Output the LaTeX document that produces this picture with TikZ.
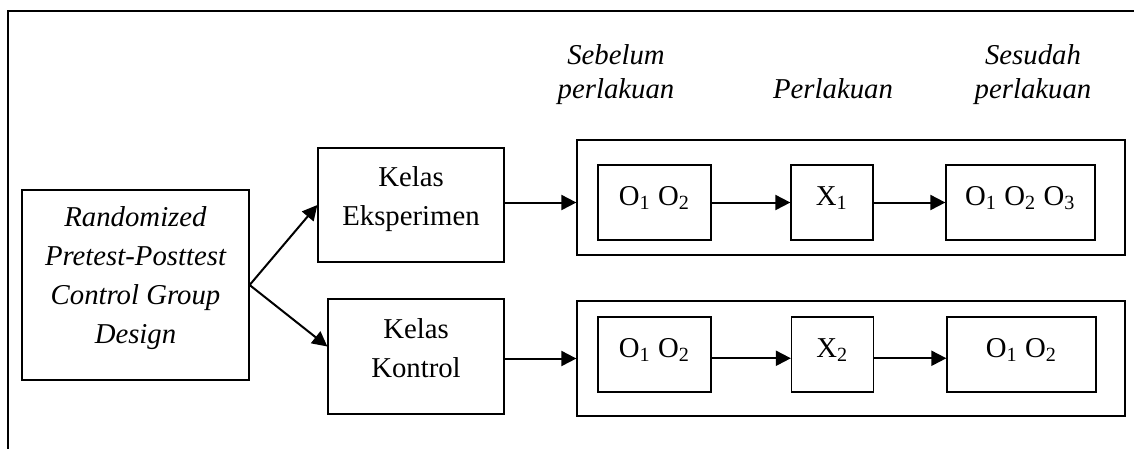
\documentclass[tikz,border=0pt]{standalone}
\usepackage{fontspec}
\setmainfont{Liberation Serif}
\usetikzlibrary{arrows.meta}

\begin{document}
\begin{tikzpicture} [x=0.4pt, y=-0.4pt]
\tikzstyle{every node}=[font=\fontsize{11.5}{15.6}\selectfont];
\tikzstyle{box}=[draw, line width=0.5pt, inner sep=0pt, align=center];
\tikzstyle{obs}=[box, text height=16pt, text depth=14pt];
\tikzstyle{head}=[font=\fontsize{11.5}{13.6}\selectfont\itshape, align=center, anchor=base];
\tikzstyle{arr}=[line width=0.8pt, -{Triangle[length=6pt,width=6pt]}];
\useasboundingbox (0,0) rectangle (1134,449);
\draw [line width=0.6pt] (1134,11) -- (8,11) -- (8,449); % open frame

% column heads
\node [head] (pre) at (616,98) {Sebelum\\perlakuan};
\node [head] (treat) at (833,98) {Perlakuan};
\node [head] (post) at (1033,98) {Sesudah\\perlakuan};

% design and the two classes
\node [box, font=\fontsize{11.5}{15.6}\selectfont\itshape, minimum width=90.8pt,
  text height=61.2pt, text depth=14.8pt] (design) at (135.5,285)
  {Randomized\\Pretest-Posttest\\Control Group\\Design};
\node [box, minimum width=74.4pt, text height=30.8pt, text depth=14.8pt]
  (eksp) at (411,205) {Kelas\\Eksperimen};
\node [box, minimum width=70.4pt, text height=31.2pt, text depth=14.8pt]
  (kontrol) at (416,356.5) {Kelas\\Kontrol};

% group frames
\node [box, minimum width=219.2pt, minimum height=46pt] (grpA) at (851,197.5) {};
\node [box, minimum width=219.2pt, minimum height=46pt] (grpB) at (851,358.5) {};

% experiment row
\node [obs, minimum width=45.2pt] (oA) at (654.5,202.5) {O\textsubscript{1} O\textsubscript{2}};
\node [obs, minimum width=32.8pt] (xA) at (832,202.5) {X\textsubscript{1}};
\node [obs, minimum width=59.6pt] (oA3) at (1020.5,202.5) {O\textsubscript{1} O\textsubscript{2} O\textsubscript{3}};

% control row
\node [obs, minimum width=45.2pt] (oB) at (654.5,354.5) {O\textsubscript{1} O\textsubscript{2}};
\node [obs, minimum width=32.8pt] (xB) at (832.5,354.5) {X\textsubscript{2}};
\node [obs, minimum width=59.6pt] (oB3) at (1021.5,354.5) {O\textsubscript{1} O\textsubscript{2}};

\draw [arr] (design.east) -- (eksp.west);
\draw [arr] (design.east) -- ([yshift=4pt]kontrol.west);
\draw [arr] (eksp.east |- oA.west) -- (grpA.west |- oA.west);
\draw [arr] (kontrol.east |- grpB.west) -- (grpB.west);
\draw [arr] (oA) -- (xA);
\draw [arr] (xA) -- (oA3);
\draw [arr] ([yshift=-1.5pt]oB.east) -- ([yshift=-1.5pt]xB.west);
\draw [arr] ([yshift=-1.5pt]xB.east) -- ([yshift=-1.5pt]oB3.west);
\end{tikzpicture}
\end{document}
